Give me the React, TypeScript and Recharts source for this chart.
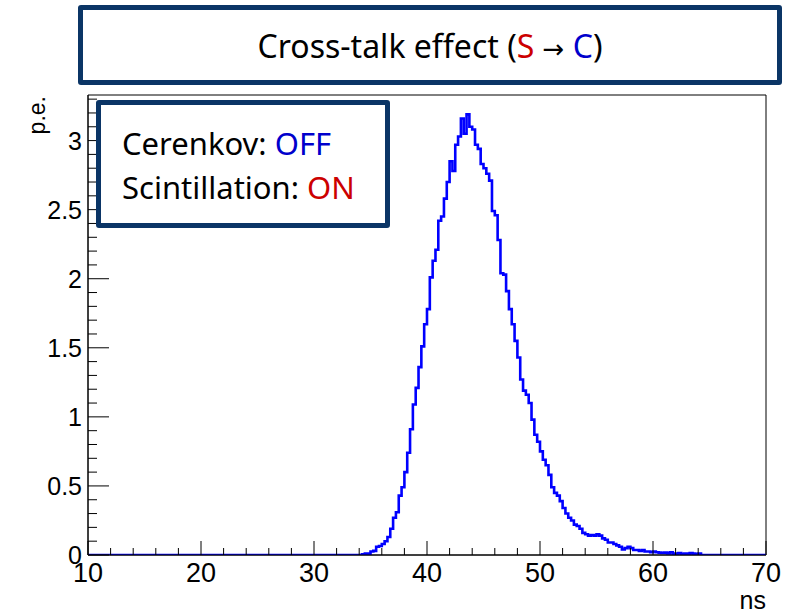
import React from "react";
import { ComposedChart, Line, XAxis, YAxis, ReferenceArea } from "recharts";

// histogram: p.e. per 0.25 ns bin, first bin starts at 34 ns
const FIRST_BIN_NS = 34;
const BIN_WIDTH_NS = 0.25;
const PE_COUNTS = [
  0, 0.005, 0.01, 0.01, 0.025, 0.03, 0.06, 0.065, 0.08, 0.1,
  0.13, 0.19, 0.27, 0.31, 0.43, 0.49, 0.6, 0.74, 0.91, 1.09,
  1.21, 1.36, 1.51, 1.67, 1.78, 2.01, 2.13, 2.21, 2.42, 2.45,
  2.58, 2.7, 2.85, 2.78, 2.97, 3.03, 3.16, 3.05, 3.19, 3.1,
  3.08, 2.97, 2.94, 2.83, 2.8, 2.76, 2.71, 2.49, 2.46, 2.28,
  2.04, 2.03, 1.91, 1.78, 1.67, 1.55, 1.43, 1.27, 1.19, 1.16,
  1.1, 0.98, 0.87, 0.82, 0.75, 0.69, 0.65, 0.58, 0.49, 0.45,
  0.43, 0.39, 0.34, 0.3, 0.27, 0.25, 0.22, 0.21, 0.19, 0.16,
  0.15, 0.14, 0.145, 0.14, 0.15, 0.14, 0.12, 0.11, 0.09, 0.09,
  0.08, 0.07, 0.06, 0.04, 0.05, 0.06, 0.05, 0.036, 0.036, 0.03,
  0.035, 0.025, 0.025, 0.02, 0.025, 0.02, 0.017, 0.015, 0.017, 0.012,
  0.02, 0.01, 0.01, 0.015, 0.005, 0.01, 0.01, 0.015, 0.01, 0.005,
  0.01, 0,
];

const X_MAJOR = [10, 20, 30, 40, 50, 60, 70];
const X_TICKS = [
  10, 12, 14, 16, 18, 20, 22, 24, 26, 28, 30, 32, 34, 36, 38, 40,
  42, 44, 46, 48, 50, 52, 54, 56, 58, 60, 62, 64, 66, 68, 70,
];
const Y_MAJOR = [0, 0.5, 1, 1.5, 2, 2.5, 3];
const Y_TICKS = [
  0, 0.1, 0.2, 0.3, 0.4, 0.5, 0.6, 0.7, 0.8, 0.9, 1, 1.1, 1.2, 1.3, 1.4,
  1.5, 1.6, 1.7, 1.8, 1.9, 2, 2.1, 2.2, 2.3, 2.4, 2.5, 2.6, 2.7, 2.8, 2.9,
  3, 3.1, 3.2, 3.3,
];
const X_RANGE = [10, 70];
const Y_RANGE = [0, 3.33];

const data = [
  { ns: X_RANGE[0], pe: 0 },
  ...PE_COUNTS.map((pe, i) => ({ ns: FIRST_BIN_NS + i * BIN_WIDTH_NS, pe })),
  { ns: X_RANGE[1], pe: 0 },
];

const NAVY = "#0b3566";
const labelFont = "'Liberation Sans', Arial, sans-serif";
const boxFont = "'Noto Sans', sans-serif";

const XTick = (props: any) => {
  const { x, y, payload } = props;
  const major = X_MAJOR.includes(payload.value);
  return (
    <g>
      <line x1={x} y1={y} x2={x} y2={y - (major ? 14 : 7)} stroke="#000" strokeWidth={1} />
      {major && (
        <text x={x} y={y + 27} textAnchor="middle" fontSize={27} fontFamily={labelFont} fill="#000">
          {payload.value}
        </text>
      )}
    </g>
  );
};

const YTick = (props: any) => {
  const { x, y, payload } = props;
  const major = Y_MAJOR.includes(payload.value);
  return (
    <g>
      <line x1={x} y1={y} x2={x + (major ? 21 : 9)} y2={y} stroke="#000" strokeWidth={1} />
      {major && (
        <text x={x - 6} y={y + 9} textAnchor="end" fontSize={25} fontFamily={labelFont} fill="#000">
          {payload.value}
        </text>
      )}
    </g>
  );
};

export default function App() {
  return (
    <div style={{ position: "absolute", left: 0, top: 0, width: 788, height: 613, background: "#fff" }}>
      <ComposedChart
        width={788}
        height={613}
        data={data}
        margin={{ top: 95, right: 22, bottom: 0, left: 0 }}
      >
        <ReferenceArea
          x1={X_RANGE[0]}
          x2={X_RANGE[1]}
          y1={Y_RANGE[0]}
          y2={Y_RANGE[1]}
          fill="none"
          stroke="#000"
          strokeWidth={1}
        />
        <XAxis
          dataKey="ns"
          type="number"
          domain={X_RANGE}
          ticks={X_TICKS}
          interval={0}
          tickSize={0}
          tickMargin={0}
          tickLine={false}
          height={58}
          axisLine={{ stroke: "#000" }}
          tick={<XTick />}
          allowDataOverflow
        />
        <YAxis
          type="number"
          domain={Y_RANGE}
          ticks={Y_TICKS}
          interval={0}
          tickSize={0}
          tickMargin={0}
          tickLine={false}
          width={88}
          axisLine={{ stroke: "#000" }}
          tick={<YTick />}
          allowDataOverflow
        />
        <Line
          type="stepAfter"
          dataKey="pe"
          stroke="#0000ff"
          strokeWidth={2.6}
          dot={false}
          activeDot={false}
          isAnimationActive={false}
        />
      </ComposedChart>

      <div
        style={{
          position: "absolute",
          left: 26,
          top: 96,
          transform: "rotate(-90deg)",
          transformOrigin: "left top",
          fontFamily: labelFont,
          fontSize: 23,
          lineHeight: "23px",
          whiteSpace: "nowrap",
        }}
      >
        <span style={{ position: "absolute", right: 0, top: 0 }}>p.e.</span>
      </div>
      <div
        style={{
          position: "absolute",
          right: 22,
          top: 588,
          fontFamily: labelFont,
          fontSize: 25,
          lineHeight: "25px",
        }}
      >
        ns
      </div>

      <div
        style={{
          position: "absolute",
          left: 78,
          top: 5,
          width: 694,
          height: 70,
          border: `5px solid ${NAVY}`,
          borderRadius: 3,
          boxSizing: "content-box",
          display: "flex",
          alignItems: "center",
          justifyContent: "center",
          fontFamily: boxFont,
          fontSize: 32,
          color: "#000",
          background: "#fff",
        }}
      >
        <span>
          Cross-talk effect (<span style={{ color: "#cc0000" }}>S</span>
          <span style={{ fontFamily: "'DejaVu Sans', sans-serif", fontSize: 26 }}> → </span>
          <span style={{ color: "#0000cc" }}>C</span>)
        </span>
      </div>

      <div
        style={{
          position: "absolute",
          left: 96,
          top: 100,
          width: 284,
          height: 118,
          border: `5px solid ${NAVY}`,
          borderRadius: 3,
          background: "#fff",
          fontFamily: boxFont,
          fontSize: 31,
          color: "#000",
        }}
      >
        <div style={{ position: "absolute", left: 21, top: 16, lineHeight: "44px", whiteSpace: "nowrap" }}>
          <div>
            Cerenkov: <span style={{ color: "#0000cc" }}>OFF</span>
          </div>
          <div>
            Scintillation: <span style={{ color: "#cc0000" }}>ON</span>
          </div>
        </div>
      </div>
    </div>
  );
}
